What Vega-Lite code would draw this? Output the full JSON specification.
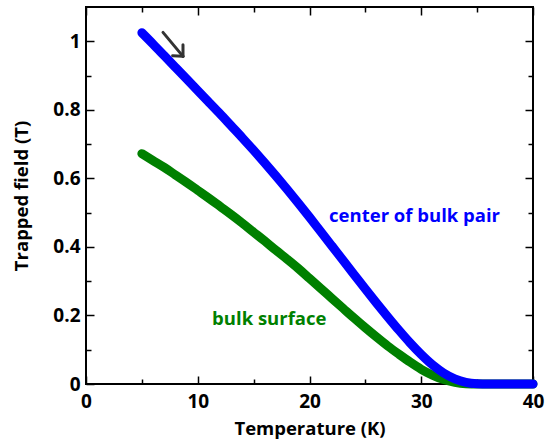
{
  "$schema": "https://vega.github.io/schema/vega-lite/v6.json",
  "autosize": "none",
  "width": 447,
  "height": 377,
  "padding": {"left": 86, "top": 7, "right": 15, "bottom": 61},
  "background": "white",
  "config": {
    "view": {"stroke": "black", "strokeWidth": 2},
    "axis": {
      "labelFont": "Open Sans", "titleFont": "Open Sans",
      "labelFontWeight": "bold", "titleFontWeight": "bold",
      "labelFontSize": 19, "titleFontSize": 18.5,
      "labelColor": "black", "titleColor": "black",
      "tickColor": "black", "tickWidth": 1.5,
      "labelFlush": false, "labelOverlap": false,
      "domain": false, "grid": false
    }
  },
  "datasets": {
    "curves": [
      {"series": "bulk surface", "T": 5, "B": 0.672},
      {"series": "bulk surface", "T": 6, "B": 0.652},
      {"series": "bulk surface", "T": 7, "B": 0.632},
      {"series": "bulk surface", "T": 8, "B": 0.61},
      {"series": "bulk surface", "T": 9, "B": 0.588},
      {"series": "bulk surface", "T": 10, "B": 0.565},
      {"series": "bulk surface", "T": 11, "B": 0.542},
      {"series": "bulk surface", "T": 12, "B": 0.518},
      {"series": "bulk surface", "T": 13, "B": 0.494},
      {"series": "bulk surface", "T": 14, "B": 0.469},
      {"series": "bulk surface", "T": 15, "B": 0.443},
      {"series": "bulk surface", "T": 16, "B": 0.417},
      {"series": "bulk surface", "T": 17, "B": 0.39},
      {"series": "bulk surface", "T": 18, "B": 0.364},
      {"series": "bulk surface", "T": 19, "B": 0.337},
      {"series": "bulk surface", "T": 20, "B": 0.308},
      {"series": "bulk surface", "T": 21, "B": 0.279},
      {"series": "bulk surface", "T": 22, "B": 0.25},
      {"series": "bulk surface", "T": 23, "B": 0.221},
      {"series": "bulk surface", "T": 24, "B": 0.192},
      {"series": "bulk surface", "T": 25, "B": 0.164},
      {"series": "bulk surface", "T": 26, "B": 0.137},
      {"series": "bulk surface", "T": 27, "B": 0.111},
      {"series": "bulk surface", "T": 28, "B": 0.087},
      {"series": "bulk surface", "T": 29, "B": 0.064},
      {"series": "bulk surface", "T": 30, "B": 0.043},
      {"series": "bulk surface", "T": 31, "B": 0.026},
      {"series": "bulk surface", "T": 32, "B": 0.013},
      {"series": "bulk surface", "T": 33, "B": 0.005},
      {"series": "bulk surface", "T": 34, "B": 0.001},
      {"series": "bulk surface", "T": 35, "B": 0},
      {"series": "bulk surface", "T": 40, "B": 0},
      {"series": "center of bulk pair", "T": 5, "B": 1.025},
      {"series": "center of bulk pair", "T": 6, "B": 0.992},
      {"series": "center of bulk pair", "T": 7, "B": 0.958},
      {"series": "center of bulk pair", "T": 8, "B": 0.924},
      {"series": "center of bulk pair", "T": 9, "B": 0.89},
      {"series": "center of bulk pair", "T": 10, "B": 0.856},
      {"series": "center of bulk pair", "T": 11, "B": 0.822},
      {"series": "center of bulk pair", "T": 12, "B": 0.788},
      {"series": "center of bulk pair", "T": 13, "B": 0.753},
      {"series": "center of bulk pair", "T": 14, "B": 0.718},
      {"series": "center of bulk pair", "T": 15, "B": 0.682},
      {"series": "center of bulk pair", "T": 16, "B": 0.645},
      {"series": "center of bulk pair", "T": 17, "B": 0.607},
      {"series": "center of bulk pair", "T": 18, "B": 0.568},
      {"series": "center of bulk pair", "T": 19, "B": 0.528},
      {"series": "center of bulk pair", "T": 20, "B": 0.487},
      {"series": "center of bulk pair", "T": 21, "B": 0.445},
      {"series": "center of bulk pair", "T": 22, "B": 0.403},
      {"series": "center of bulk pair", "T": 23, "B": 0.361},
      {"series": "center of bulk pair", "T": 24, "B": 0.319},
      {"series": "center of bulk pair", "T": 25, "B": 0.277},
      {"series": "center of bulk pair", "T": 26, "B": 0.236},
      {"series": "center of bulk pair", "T": 27, "B": 0.196},
      {"series": "center of bulk pair", "T": 28, "B": 0.157},
      {"series": "center of bulk pair", "T": 29, "B": 0.12},
      {"series": "center of bulk pair", "T": 30, "B": 0.086},
      {"series": "center of bulk pair", "T": 31, "B": 0.056},
      {"series": "center of bulk pair", "T": 32, "B": 0.032},
      {"series": "center of bulk pair", "T": 33, "B": 0.015},
      {"series": "center of bulk pair", "T": 34, "B": 0.005},
      {"series": "center of bulk pair", "T": 35, "B": 0.001},
      {"series": "center of bulk pair", "T": 36, "B": 0},
      {"series": "center of bulk pair", "T": 40, "B": 0}
    ],
    "labels": [
      {"label": "center of bulk pair", "T": 29.4, "B": 0.49},
      {"label": "bulk surface", "T": 16.4, "B": 0.19}
    ],
    "arrow": [
      {"T": 6.89, "B": 1.026, "T2": 8.68, "B2": 0.956},
      {"T": 8.68, "B": 0.956, "T2": 8.68, "B2": 0.99},
      {"T": 8.68, "B": 0.956, "T2": 7.75, "B2": 0.958}
    ]
  },
  "layer": [
    {
      "data": {"name": "curves"},
      "transform": [{"filter": "datum.series === 'bulk surface'"}],
      "mark": {"type": "line", "color": "#008000", "strokeWidth": 9, "strokeCap": "round", "strokeJoin": "round", "interpolate": "monotone"},
      "encoding": {
        "x": {"field": "T", "type": "quantitative",
              "scale": {"domain": [0, 40], "nice": false},
              "axis": {"orient": "bottom", "values": [0, 10, 20, 30, 40], "tickSize": -8, "labelPadding": 16, "title": "Temperature (K)", "titlePadding": 8}},
        "y": {"field": "B", "type": "quantitative",
              "scale": {"domain": [0, 1.1], "nice": false},
              "axis": {"orient": "left", "values": [0, 0.2, 0.4, 0.6, 0.8, 1], "format": ".1~f", "tickSize": -8, "labelPadding": 14, "title": "Trapped field (T)", "titlePadding": 21}}
      }
    },
    {
      "data": {"name": "curves"},
      "transform": [{"filter": "datum.series === 'center of bulk pair'"}],
      "mark": {"type": "line", "color": "#0000FF", "strokeWidth": 9, "strokeCap": "round", "strokeJoin": "round", "interpolate": "monotone"},
      "encoding": {
        "x": {"field": "T", "type": "quantitative",
              "axis": {"orient": "bottom", "values": [5, 15, 25, 35], "tickSize": -5, "labels": false, "title": null}},
        "y": {"field": "B", "type": "quantitative",
              "axis": {"orient": "left", "values": [0.1, 0.3, 0.5, 0.7, 0.9], "tickSize": -5, "labels": false, "title": null}}
      }
    },
    {
      "data": {"name": "labels"},
      "mark": {"type": "text", "font": "Open Sans", "fontWeight": "bold", "fontSize": 18.5, "align": "center", "baseline": "middle"},
      "encoding": {
        "x": {"field": "T", "type": "quantitative",
              "axis": {"orient": "top", "values": [0, 10, 20, 30, 40], "tickSize": -8, "labels": false, "title": null}},
        "y": {"field": "B", "type": "quantitative",
              "axis": {"orient": "right", "values": [0, 0.2, 0.4, 0.6, 0.8, 1], "tickSize": -8, "labels": false, "title": null}},
        "text": {"field": "label"},
        "color": {"field": "label", "type": "nominal",
                  "scale": {"domain": ["bulk surface", "center of bulk pair"], "range": ["#008000", "#0000FF"]},
                  "legend": null}
      }
    },
    {
      "data": {"name": "arrow"},
      "mark": {"type": "rule", "color": "#333333", "strokeWidth": 3, "strokeCap": "round"},
      "encoding": {
        "x": {"field": "T", "type": "quantitative",
              "axis": {"orient": "top", "values": [5, 15, 25, 35], "tickSize": -5, "labels": false, "title": null}},
        "y": {"field": "B", "type": "quantitative",
              "axis": {"orient": "right", "values": [0.1, 0.3, 0.5, 0.7, 0.9], "tickSize": -5, "labels": false, "title": null}},
        "x2": {"field": "T2"},
        "y2": {"field": "B2"}
      }
    }
  ],
  "resolve": {
    "scale": {"x": "shared", "y": "shared"},
    "axis": {"x": "independent", "y": "independent"}
  }
}
